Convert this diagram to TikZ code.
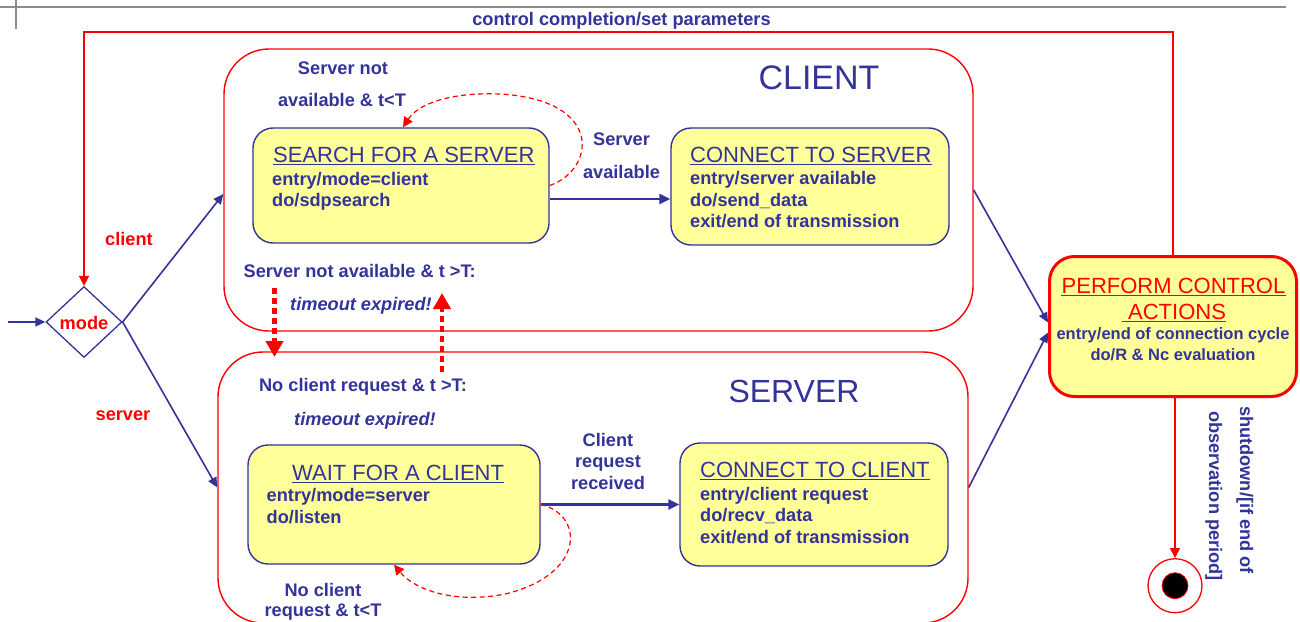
\documentclass[tikz,border=0pt]{standalone}
\usepackage{fontspec}
\setmainfont{Liberation Sans}
\usetikzlibrary{arrows.meta,shapes.geometric}
\definecolor{umlblue}{HTML}{333399}
\definecolor{umlred}{HTML}{FF0000}
\definecolor{umlyellow}{HTML}{FFFF99}
\definecolor{rulegray}{HTML}{8C8C8C}

\begin{document}
\begin{tikzpicture}[x=1pt,y=-1pt,
  container/.style={draw=umlred, line width=1.4pt, rounded corners=45pt, inner sep=0pt},
  statebox/.style={draw=umlblue, fill=umlyellow, line width=1.4pt, rounded corners=20pt, inner sep=0pt},
  statetitle/.style={font=\fontsize{22}{26}\selectfont, text=umlblue, inner sep=0pt},
  body/.style={font=\fontsize{18.2}{22}\selectfont\bfseries, text=umlblue, inner sep=0pt, anchor=base west},
  lbl/.style={font=\fontsize{18.2}{22}\selectfont\bfseries, text=umlblue, inner sep=0pt, anchor=base},
  itlbl/.style={lbl, font=\fontsize{18.2}{22}\selectfont\bfseries\itshape},
  redlbl/.style={lbl, text=umlred},
  bigtitle/.style={text=umlblue, inner sep=0pt, anchor=base},
  uline/.style={line width=1.4pt},
  conn/.style={draw=umlblue, line width=1.6pt, -{Triangle[length=10pt,width=9pt]}},
  thickconn/.style={draw=umlblue, line width=2.6pt, -{Triangle[length=11pt,width=10pt]}},
  redconn/.style={draw=umlred, line width=1.6pt, -{Triangle[length=10pt,width=10pt]}},
  loopconn/.style={draw=umlred, line width=1.2pt, dash pattern=on 5pt off 3.5pt, -{Triangle[length=10pt,width=10pt]}},
  timeoutconn/.style={draw=umlred, line width=4.5pt, dash pattern=on 6pt off 4pt, -{Triangle[length=16pt,width=17pt]}}
]
\useasboundingbox (0,0) rectangle (1300,621);

% page rules
\draw[rulegray, line width=2pt] (0,7) -- (1286,7);
\draw[rulegray, line width=2pt] (15.5,0) -- (15.5,29);

% composite states
\node[container, minimum width=749pt, minimum height=282pt] (client) at (598.5,190) {};
\node[container, minimum width=750pt, minimum height=271pt] (server) at (593,487.5) {};
\node[bigtitle, font=\fontsize{34}{40}\selectfont] (clientname) at (819,89) {CLIENT};
\node[bigtitle, font=\fontsize{32}{38}\selectfont] (servername) at (794,402.5) {SERVER};

% choice point
\node[diamond, draw=umlblue, line width=1.3pt, minimum width=76pt, minimum height=71pt, inner sep=0pt] (mode) at (84,322) {};
\node[redlbl] (modename) at (84,329) {mode};
\coordinate (entry) at (8,322);

% simple states
\node[statebox, minimum width=296pt, minimum height=115pt] (search) at (401,185.5) {};
\node[statetitle, anchor=base west] (searchT) at (273,162) {SEARCH FOR A SERVER};
\node[body] (searchA) at (272,185) {entry/mode=client};
\node[body] (searchB) at (272,206.5) {do/sdpsearch};

\node[statebox, minimum width=278pt, minimum height=117pt] (connS) at (810,186.5) {};
\node[statetitle, anchor=base west] (connST) at (690,162) {CONNECT TO SERVER};
\node[body] (connSA) at (690,184.5) {entry/server available};
\node[body] (connSB) at (690,206) {do/send\_data};
\node[body] (connSC) at (690,227.5) {exit/end of transmission};

\node[statebox, minimum width=292pt, minimum height=119pt] (wait) at (394,504.5) {};
\node[statetitle, anchor=base west] (waitT) at (292,480) {WAIT FOR A CLIENT};
\node[body] (waitA) at (266.5,501.5) {entry/mode=server};
\node[body] (waitB) at (266.5,523) {do/listen};

\node[statebox, minimum width=268pt, minimum height=123pt] (connC) at (814,504.5) {};
\node[statetitle, anchor=base west] (connCT) at (700,477) {CONNECT TO CLIENT};
\node[body] (connCA) at (700,500) {entry/client request};
\node[body] (connCB) at (700,521.5) {do/recv\_data};
\node[body] (connCC) at (700,543) {exit/end of transmission};

\node[statebox, draw=umlred, line width=3pt, rounded corners=25pt, minimum width=247pt, minimum height=140pt] (perform) at (1173,326.5) {};
\node[statetitle, text=umlred, anchor=base] (performT) at (1173.5,293) {PERFORM CONTROL};
\node[statetitle, text=umlred, anchor=base] (performU) at (1174,319) {\ ACTIONS};
\node[lbl, font=\fontsize{16.5}{20}\selectfont\bfseries] (performA) at (1173,339) {entry/end of connection cycle};
\node[lbl, font=\fontsize{16.5}{20}\selectfont\bfseries] (performB) at (1173,360) {do/R \& Nc evaluation};

% final state
\node[circle, draw=umlred, line width=1.3pt, fill=white, minimum size=54pt, inner sep=0pt] (final) at (1175,585.7) {};
\node[circle, draw=umlred, line width=0.8pt, fill=black, minimum size=26pt, inner sep=0pt] (finaldot) at (final) {};

% title underlines
\foreach \t/\c in {searchT/umlblue, connST/umlblue, waitT/umlblue, connCT/umlblue, performT/umlred, performU/umlred}
  \draw[uline, \c] ([yshift=-2.5pt]\t.base west) -- ([yshift=-2.5pt]\t.base east);

% outer control loop
\coordinate (loopcorner) at (84,32);
\draw[redconn] (perform.north) |- (loopcorner) -- (mode.north);
\node[lbl] (loopname) at (621.5,25) {control completion/set parameters};

% entry and mode choice
\draw[conn] (entry) -- (mode.west);
\draw[conn] (mode.east) -- ([yshift=-4pt]client.west);
\draw[conn] (mode.east) -- (server.west);
\node[redlbl] (clientguard) at (129,245.5) {client};
\node[redlbl] (serverguard) at (123,420.5) {server};

% client transitions
\draw[thickconn] ([yshift=-13.5pt]search.east) -- ([yshift=-13.5pt]search.east -| connS.west);
\node[lbl] (availA) at (621.5,145.5) {Server};
\node[lbl] (availB) at (621.5,178.3) {available};
\draw[loopconn] (search.east) .. controls (595,170) and (605,100) .. (500,94)
  .. controls (450,92) and (418,104) .. ([xshift=2pt]search.north);
\node[lbl] (retryA) at (343,74) {Server not};
\node[lbl] (retryB) at (342,106.5) {available \& t<T};

% server transitions
\draw[thickconn] (wait.east) -- (wait.east -| connC.west);
\node[lbl] (reqA) at (608,446) {Client};
\node[lbl] (reqB) at (608,467.5) {request};
\node[lbl] (reqC) at (608,489.3) {received};
\draw[loopconn] (wait.east) .. controls (585,515) and (585,575) .. (505,594)
  .. controls (455,604) and (415,590) .. (wait.south);
\node[lbl] (waitretryA) at (323,596) {No client};
\node[lbl] (waitretryB) at (323,616.7) {request \& t<T};

% timeouts between client and server
\coordinate (toServerA) at (274.5,288);
\coordinate (toServerB) at (274.5,357);
\coordinate (toClientA) at (442,372);
\coordinate (toClientB) at (442,293);
\draw[timeoutconn] (toServerA) -- (toServerB);
\draw[timeoutconn] (toClientA) -- (toClientB);
\node[lbl] (cto) at (359.7,277.3) {Server not available \& t >T:};
\node[itlbl] (ctoB) at (361,310.7) {timeout expired!};
\node[lbl] (sto) at (363,391.7) {No client request \& t >T:};
\node[itlbl] (stoB) at (365,425) {timeout expired!};

% into control actions and shutdown
\draw[conn] (client.east) -- ([yshift=4pt]perform.west);
\draw[conn] (server.east) -- ([yshift=-6pt]perform.west);
\draw[redconn] (perform.south -| final.north) -- (final.north);
\node[lbl, rotate=-90] (shutA) at (1240,490) {shutdown/[if end of};
\node[lbl, rotate=-90] (shutB) at (1209,496) {observation period]};
\end{tikzpicture}
\end{document}
